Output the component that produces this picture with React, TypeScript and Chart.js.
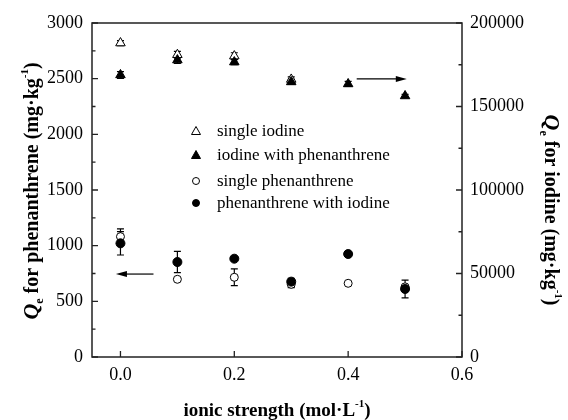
import React, { useEffect, useRef } from "react";
import { Chart, registerables } from "chart.js";

Chart.register(...registerables);

const ionicStrength = [0, 0.1, 0.2, 0.3, 0.4, 0.5];
const singleIodine = [188000, 181000, 180200, 166200, null, null];
const singleIodineErr = [1500, 2000, 2000, 1500, 0, 0];
const iodineWithPhen = [168900, 177800, 176600, 164700, 163500, 156300];
const iodineWithPhenErr = [2000, 2000, 1500, 1500, 1500, 1000];
const singlePhen = [1081, 698, 716, 653, 662, 630];
const singlePhenErr = [70, 0, 75, 30, 0, 0];
const phenWithIodine = [1021, 853, 883, 677, 925, 611];
const phenWithIodineErr = [105, 95, 0, 30, 0, 80];

const xTicks = [0, 0.2, 0.4, 0.6];
const yTicks = [0, 500, 1000, 1500, 2000, 2500, 3000];
const yMinorTicks = [250, 750, 1250, 1750, 2250, 2750];
const y1Ticks = [0, 50000, 100000, 150000, 200000];
const y1MinorTicks = [25000, 75000, 125000, 175000];

const legendLabels = ["single iodine", "iodine with phenanthrene", "single phenanthrene", "phenanthrene with iodine"];
// arrows: [xStart, xEnd, yValue, axis]
const arrowLeft = { x1: 0.058, x2: -0.008, y: 745, axis: "y" };
const arrowRight = { x1: 0.415, x2: 0.503, y: 166500, axis: "y1" };

const SERIF = '"Liberation Serif", "Times New Roman", serif';

type Seg = { text: string; font: string; dy: number };

function drawRich(ctx: CanvasRenderingContext2D, segs: Seg[], cx: number, cy: number, rot: number) {
  ctx.save();
  ctx.translate(cx, cy);
  ctx.rotate(rot);
  let total = 0;
  const widths = segs.map((s) => {
    ctx.font = s.font;
    const w = ctx.measureText(s.text).width;
    total += w;
    return w;
  });
  let x = -total / 2;
  ctx.fillStyle = "#000";
  ctx.textBaseline = "alphabetic";
  ctx.textAlign = "left";
  segs.forEach((s, i) => {
    ctx.font = s.font;
    ctx.fillText(s.text, x, s.dy);
    x += widths[i];
  });
  ctx.restore();
}

export default function App() {
  const ref = useRef<HTMLCanvasElement | null>(null);

  useEffect(() => {
    if (!ref.current) return;

    const errMap: Record<string, number[]> = {
      [legendLabels[0]]: singleIodineErr,
      [legendLabels[1]]: iodineWithPhenErr,
      [legendLabels[2]]: singlePhenErr,
      [legendLabels[3]]: phenWithIodineErr,
    };

    const errorBars = {
      id: "errorBars",
      beforeDatasetsDraw(chart: any) {
        const ctx = chart.ctx as CanvasRenderingContext2D;
        const xs = chart.scales.x;
        ctx.save();
        ctx.strokeStyle = "#000";
        ctx.lineWidth = 1.2;
        chart.data.datasets.forEach((ds: any) => {
          const ys = chart.scales[ds.yAxisID];
          const errs = errMap[ds.label];
          ds.data.forEach((p: any, i: number) => {
            if (p.y == null || !errs[i]) return;
            const px = xs.getPixelForValue(p.x);
            const top = ys.getPixelForValue(p.y + errs[i]);
            const bot = ys.getPixelForValue(p.y - errs[i]);
            ctx.beginPath();
            ctx.moveTo(px, top);
            ctx.lineTo(px, bot);
            ctx.moveTo(px - 3.5, top);
            ctx.lineTo(px + 3.5, top);
            ctx.moveTo(px - 3.5, bot);
            ctx.lineTo(px + 3.5, bot);
            ctx.stroke();
          });
        });
        ctx.restore();
      },
    };

    const decor = {
      id: "decor",
      afterDraw(chart: any) {
        const ctx = chart.ctx as CanvasRenderingContext2D;
        const a = chart.chartArea;
        const xs = chart.scales.x;
        const ys = chart.scales.y;
        const y1 = chart.scales.y1;
        ctx.save();
        ctx.strokeStyle = "#222";
        ctx.lineWidth = 1.5;
        ctx.strokeRect(a.left, a.top, a.right - a.left, a.bottom - a.top);
        ctx.lineWidth = 1.3;
        ctx.beginPath();
        xTicks.forEach((v) => {
          const px = xs.getPixelForValue(v);
          ctx.moveTo(px, a.bottom);
          ctx.lineTo(px, a.bottom - 6);
        });
        yTicks.forEach((v) => {
          const py = ys.getPixelForValue(v);
          ctx.moveTo(a.left, py);
          ctx.lineTo(a.left + 6, py);
        });
        yMinorTicks.forEach((v) => {
          const py = ys.getPixelForValue(v);
          ctx.moveTo(a.left, py);
          ctx.lineTo(a.left + 3.5, py);
        });
        y1Ticks.forEach((v) => {
          const py = y1.getPixelForValue(v);
          ctx.moveTo(a.right, py);
          ctx.lineTo(a.right - 6, py);
        });
        y1MinorTicks.forEach((v) => {
          const py = y1.getPixelForValue(v);
          ctx.moveTo(a.right, py);
          ctx.lineTo(a.right - 3.5, py);
        });
        ctx.stroke();

        // arrows
        [arrowLeft, arrowRight].forEach((ar) => {
          const sc = chart.scales[ar.axis];
          const x1 = xs.getPixelForValue(ar.x1);
          const x2 = xs.getPixelForValue(ar.x2);
          const py = sc.getPixelForValue(ar.y);
          const dir = x2 > x1 ? 1 : -1;
          ctx.strokeStyle = "#000";
          ctx.lineWidth = 1.2;
          ctx.beginPath();
          ctx.moveTo(x1, py);
          ctx.lineTo(x2 - dir * 8, py);
          ctx.stroke();
          ctx.fillStyle = "#000";
          ctx.beginPath();
          ctx.moveTo(x2, py);
          ctx.lineTo(x2 - dir * 11, py - 3);
          ctx.lineTo(x2 - dir * 11, py + 3);
          ctx.closePath();
          ctx.fill();
        });

        // legend
        const rows = [131, 155, 181, 203];
        ctx.font = `17px ${SERIF}`;
        ctx.textBaseline = "middle";
        ctx.textAlign = "left";
        chart.data.datasets
          .slice()
          .sort((p: any, q: any) => legendLabels.indexOf(p.label) - legendLabels.indexOf(q.label))
          .forEach((ds: any, i: number) => {
            const y = rows[i];
            const mx = 196;
            ctx.lineWidth = 1;
            ctx.strokeStyle = "#000";
            ctx.fillStyle = ds.pointBackgroundColor;
            ctx.beginPath();
            if (ds.pointStyle === "triangle") {
              ctx.moveTo(mx, y - 4.5);
              ctx.lineTo(mx + 4.5, y + 3.5);
              ctx.lineTo(mx - 4.5, y + 3.5);
              ctx.closePath();
            } else {
              ctx.arc(mx, y, 3.5, 0, Math.PI * 2);
            }
            ctx.fill();
            ctx.stroke();
            ctx.fillStyle = "#000";
            ctx.fillText(ds.label, 217, y + 1);
          });

        const B = (s: number) => `bold ${s}px ${SERIF}`;
        const BI = (s: number) => `italic bold ${s}px ${SERIF}`;
        drawRich(
          ctx,
          [
            { text: "Q", font: BI(22), dy: 0 },
            { text: "e", font: B(12), dy: 5 },
            { text: " for phenanthrene (mg·kg", font: B(20), dy: 0 },
            { text: "-1", font: B(11), dy: -10 },
            { text: ")", font: B(20), dy: 0 },
          ],
          38,
          191,
          -Math.PI / 2
        );
        drawRich(
          ctx,
          [
            { text: "Q", font: BI(22), dy: 0 },
            { text: "e", font: B(12), dy: 5 },
            { text: " for iodine (mg·kg", font: B(20), dy: 0 },
            { text: "-1", font: B(11), dy: -10 },
            { text: ")", font: B(20), dy: 0 },
          ],
          545,
          210,
          Math.PI / 2
        );
        drawRich(
          ctx,
          [
            { text: "ionic strength (mol·L", font: B(19), dy: 0 },
            { text: "-1", font: B(11), dy: -9 },
            { text: ")", font: B(19), dy: 0 },
          ],
          277,
          416,
          0
        );
        ctx.restore();
      },
    };

    const bgPlugin = {
      id: "bg",
      beforeDraw(chart: any) {
        const ctx = chart.ctx;
        ctx.save();
        ctx.fillStyle = "#fff";
        ctx.fillRect(0, 0, chart.width, chart.height);
        ctx.restore();
      },
    };

    const pts = (arr: (number | null)[]) => ionicStrength.map((x, i) => ({ x, y: arr[i] }));

    const tickFont = { family: SERIF, size: 18 };
    const plain = (v: any) => String(v);

    const chart = new Chart(ref.current, {
      type: "scatter",
      data: {
        datasets: [
          {
            label: legendLabels[1],
            data: pts(iodineWithPhen),
            yAxisID: "y1",
            pointStyle: "triangle",
            pointRadius: 5.5,
            pointBackgroundColor: "#000",
            pointBorderColor: "#000",
            pointBorderWidth: 1,
          },
          {
            label: legendLabels[3],
            data: pts(phenWithIodine),
            yAxisID: "y",
            pointStyle: "circle",
            pointRadius: 4.5,
            pointBackgroundColor: "#000",
            pointBorderColor: "#000",
            pointBorderWidth: 1,
          },
          {
            label: legendLabels[0],
            data: pts(singleIodine),
            yAxisID: "y1",
            pointStyle: "triangle",
            pointRadius: 5.5,
            pointBackgroundColor: "#fff",
            pointBorderColor: "#000",
            pointBorderWidth: 1,
          },
          {
            label: legendLabels[2],
            data: pts(singlePhen),
            yAxisID: "y",
            pointStyle: "circle",
            pointRadius: 4,
            pointBackgroundColor: "#fff",
            pointBorderColor: "#000",
            pointBorderWidth: 1,
          },
        ] as any,
      },
      options: {
        animation: false,
        responsive: false,
        layout: { padding: { top: 23, left: 0, right: 0, bottom: 0 } },
        plugins: { legend: { display: false }, tooltip: { enabled: false } },
        scales: {
          x: {
            type: "linear",
            min: -0.05,
            max: 0.6,
            grid: { display: false, drawTicks: false },
            border: { display: false },
            afterBuildTicks: (s: any) => {
              s.ticks = xTicks.map((v) => ({ value: v }));
            },
            afterFit: (s: any) => {
              s.height = 63;
            },
            ticks: {
              font: tickFont,
              color: "#000",
              padding: 7,
              maxRotation: 0,
              callback: (v: any) => Number(v).toFixed(1),
            },
          },
          y: {
            type: "linear",
            position: "left",
            min: 0,
            max: 3000,
            grid: { display: false, drawTicks: false },
            border: { display: false },
            afterBuildTicks: (s: any) => {
              s.ticks = yTicks.map((v) => ({ value: v }));
            },
            afterFit: (s: any) => {
              s.width = 92;
            },
            ticks: { font: tickFont, color: "#000", padding: 9, callback: plain },
          },
          y1: {
            type: "linear",
            position: "right",
            min: 0,
            max: 200000,
            grid: { display: false, drawTicks: false },
            border: { display: false },
            afterBuildTicks: (s: any) => {
              s.ticks = y1Ticks.map((v) => ({ value: v }));
            },
            afterFit: (s: any) => {
              s.width = 106;
            },
            ticks: { font: tickFont, color: "#000", padding: 8, callback: plain },
          },
        },
      } as any,
      plugins: [bgPlugin, errorBars, decor],
    });
    return () => chart.destroy();
  }, []);

  return (
    <div style={{ position: "absolute", left: 0, top: 0, width: 568, height: 420 }}>
      <canvas ref={ref} width={568} height={420} style={{ display: "block" }} />
    </div>
  );
}
